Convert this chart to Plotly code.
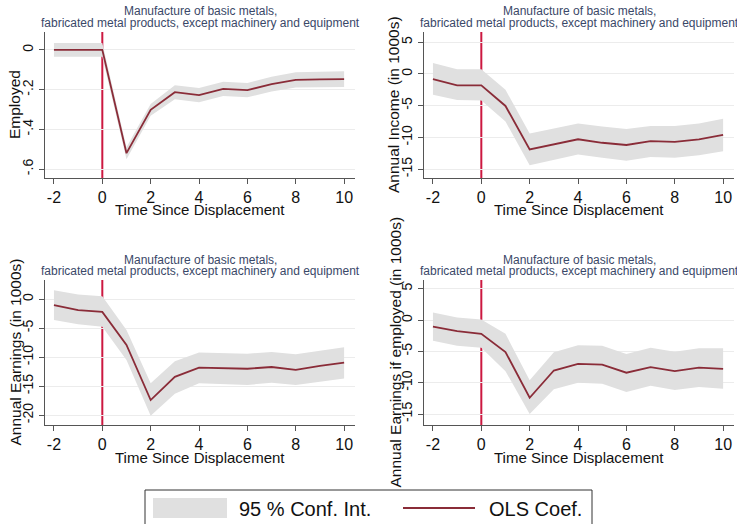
import plotly.graph_objects as go

# ---------------- data ----------------
years = [-2, -1, 0, 1, 2, 3, 4, 5, 6, 7, 8, 9, 10]

employed_coef = [0.0, 0.0, 0.0, -0.52, -0.302, -0.213, -0.228, -0.196, -0.203, -0.172, -0.151, -0.149, -0.147]
employed_hi = [0.035, 0.035, 0.035, -0.49, -0.272, -0.178, -0.192, -0.16, -0.167, -0.135, -0.113, -0.11, -0.107]
employed_lo = [-0.035, -0.035, -0.035, -0.55, -0.332, -0.248, -0.264, -0.232, -0.239, -0.209, -0.189, -0.188, -0.187]

income_coef = [-0.84, -1.8, -1.8, -5.05, -11.9, -11.05, -10.3, -10.85, -11.2, -10.6, -10.7, -10.3, -9.6]
income_hi = [1.7, 0.75, 0.75, -2.5, -9.4, -8.6, -7.8, -8.3, -8.7, -8.2, -8.2, -7.8, -7.05]
income_lo = [-3.3, -4.1, -4.2, -7.5, -14.4, -13.6, -12.7, -13.2, -13.7, -13.1, -13.2, -12.8, -12.2]

earn_coef = [-1.03, -1.9, -2.2, -7.9, -17.4, -13.4, -11.8, -11.9, -12.0, -11.7, -12.2, -11.5, -10.95]
earn_hi = [1.55, 0.8, 0.5, -5.3, -14.5, -10.7, -9.2, -9.25, -9.4, -9.1, -9.5, -8.9, -8.3]
earn_lo = [-3.6, -4.35, -4.75, -10.5, -20.1, -16.3, -14.5, -14.7, -14.8, -14.4, -14.8, -14.25, -13.7]

earnemp_coef = [-1.05, -1.75, -2.2, -5.1, -12.4, -8.05, -7.0, -7.1, -8.4, -7.5, -8.15, -7.6, -7.8]
earnemp_hi = [1.2, 0.4, 0.1, -2.2, -9.6, -5.15, -4.0, -4.1, -5.4, -4.4, -5.05, -4.5, -4.5]
earnemp_lo = [-3.3, -4.1, -4.4, -8.15, -15.0, -11.05, -10.0, -10.15, -11.5, -10.5, -11.15, -10.7, -10.95]

x_ticks = [-2, 0, 2, 4, 6, 8, 10]
x_ticktext = ["-2", "0", "2", "4", "6", "8", "10"]
y_ticks_emp = [0, -0.2, -0.4, -0.6]
y_ticktext_emp = ["0", "-.2", "-.4", "-.6"]
y_ticks_income = [5, 0, -5, -10, -15]
y_ticks_earn = [0, -5, -10, -15, -20]
y_ticks_earnemp = [5, 0, -5, -10, -15]

title_line1 = "Manufacture of basic metals,"
title_line2 = "fabricated metal products, except machinery and equipment"
x_title = "Time Since Displacement"
y_titles = ["Employed", "Annual Income (in 1000s)", "Annual Earnings (in 1000s)",
            "Annual Earnings if employed (in 1000s)"]
legend_labels = ["95 % Conf. Int.", "OLS Coef."]

# ---------------- styling ----------------
W, H = 737, 524
FONT = "Liberation Sans, Arial, sans-serif"
LINE_COL = "#8a2c38"
VLINE_COL = "#cc1840"
CI_COL = "#e0e0e0"
GRID_COL = "#ececec"
AXIS_COL = "#555555"
TITLE_COL = "#3a4868"


def px(x):
    return x / W


def py(y):
    return 1 - y / H


# panel pixel boxes: (left, right, top, bottom)
boxes = [(45, 355, 32, 178), (424, 734, 32, 178), (45, 355, 280, 425), (424, 734, 280, 425)]
yranges = [[-0.645, 0.09], [-16.4, 6.6], [-21.7, 3.3], [-16.75, 6.4]]
ytick_sets = [(y_ticks_emp, y_ticktext_emp),
              (y_ticks_income, [str(v) for v in y_ticks_income]),
              (y_ticks_earn, [str(v) for v in y_ticks_earn]),
              (y_ticks_earnemp, [str(v) for v in y_ticks_earnemp])]
ytitle_x = [15, 394, 15, 395]
series = [(employed_coef, employed_hi, employed_lo),
          (income_coef, income_hi, income_lo),
          (earn_coef, earn_hi, earn_lo),
          (earnemp_coef, earnemp_hi, earnemp_lo)]

fig = go.Figure()
shapes = []
annotations = []
layout_axes = {}

for i, (box, (coef, hi, lo)) in enumerate(zip(boxes, series)):
    n = i + 1
    xa = "x" if n == 1 else f"x{n}"
    ya = "y" if n == 1 else f"y{n}"
    fig.add_trace(go.Scatter(x=years, y=hi, mode="lines", line=dict(width=0, color=CI_COL),
                             showlegend=False, hoverinfo="skip", xaxis=xa, yaxis=ya))
    fig.add_trace(go.Scatter(x=years, y=lo, mode="lines", line=dict(width=0, color=CI_COL),
                             fill="tonexty", fillcolor=CI_COL, showlegend=False,
                             hoverinfo="skip", xaxis=xa, yaxis=ya))
    fig.add_trace(go.Scatter(x=years, y=coef, mode="lines", line=dict(width=1.8, color=LINE_COL),
                             showlegend=False, xaxis=xa, yaxis=ya))

    l, r, t, b = box
    xkey = "xaxis" if n == 1 else f"xaxis{n}"
    ykey = "yaxis" if n == 1 else f"yaxis{n}"
    layout_axes[xkey] = dict(domain=[px(l), px(r)], anchor=ya, range=[-2.37, 10.45],
                             tickmode="array", tickvals=x_ticks, ticktext=x_ticktext,
                             showgrid=False, zeroline=False,
                             showline=True, linecolor=AXIS_COL, linewidth=1,
                             ticks="outside", ticklen=5, tickcolor=AXIS_COL,
                             tickfont=dict(family=FONT, size=16, color="#111111"))
    layout_axes[ykey] = dict(domain=[py(b), py(t)], anchor=xa, range=yranges[i],
                             tickmode="array", tickvals=ytick_sets[i][0], ticktext=ytick_sets[i][1],
                             tickangle=-90, showgrid=True, gridcolor=GRID_COL, gridwidth=1.2,
                             zeroline=False, showline=True, linecolor=AXIS_COL, linewidth=1,
                             ticks="outside", ticklen=5, tickcolor=AXIS_COL,
                             tickfont=dict(family=FONT, size=14, color="#111111"))
    # vertical event line at x=0
    shapes.append(dict(type="line", xref=xa, yref="paper", x0=0, x1=0, y0=py(b), y1=py(t),
                       line=dict(color=VLINE_COL, width=2), layer="below"))
    # panel title (two tightly spaced lines)
    annotations.append(dict(text=title_line1, xref="paper", yref="paper",
                            x=px((l + r) / 2), y=py(t - 20.5), xanchor="center", yanchor="middle",
                            showarrow=False, font=dict(family=FONT, size=12, color=TITLE_COL)))
    annotations.append(dict(text=title_line2, xref="paper", yref="paper",
                            x=px((l + r) / 2), y=py(t - 9), xanchor="center", yanchor="middle",
                            showarrow=False, font=dict(family=FONT, size=12, color=TITLE_COL)))
    # x title
    annotations.append(dict(text=x_title, xref="paper", yref="paper",
                            x=px((l + r) / 2), y=py(b + 32), xanchor="center", yanchor="middle",
                            showarrow=False, font=dict(family=FONT, size=15, color="#111111")))
    # y title
    annotations.append(dict(text=y_titles[i], xref="paper", yref="paper",
                            x=px(ytitle_x[i]), y=py((t + b) / 2), xanchor="center", yanchor="middle",
                            textangle=-90, showarrow=False,
                            font=dict(family=FONT, size=15.5, color="#111111")))

# legend box (drawn manually to mimic Stata legend)
shapes.append(dict(type="rect", xref="paper", yref="paper", x0=px(145), x1=px(592),
                   y0=py(530), y1=py(490), line=dict(color="#333333", width=1),
                   fillcolor="white", layer="above"))
shapes.append(dict(type="rect", xref="paper", yref="paper", x0=px(153), x1=px(227),
                   y0=py(518), y1=py(498), line=dict(width=0), fillcolor=CI_COL, layer="above"))
shapes.append(dict(type="line", xref="paper", yref="paper", x0=px(403), x1=px(475),
                   y0=py(508), y1=py(508), line=dict(color=LINE_COL, width=2), layer="above"))
annotations.append(dict(text=legend_labels[0], xref="paper", yref="paper", x=px(237), y=py(509),
                        xanchor="left", yanchor="middle", showarrow=False,
                        font=dict(family=FONT, size=20, color="#111111")))
annotations.append(dict(text=legend_labels[1], xref="paper", yref="paper", x=px(487), y=py(509),
                        xanchor="left", yanchor="middle", showarrow=False,
                        font=dict(family=FONT, size=20, color="#111111")))

fig.update_layout(width=W, height=H, margin=dict(l=0, r=0, t=0, b=0, autoexpand=False),
                  paper_bgcolor="white", plot_bgcolor="white",
                  shapes=shapes, annotations=annotations, showlegend=False,
                  font=dict(family=FONT), **layout_axes)

fig.write_html("out.html", config={"displayModeBar": False},
               post_script="document.body.style.margin='0';document.body.style.padding='0';")
